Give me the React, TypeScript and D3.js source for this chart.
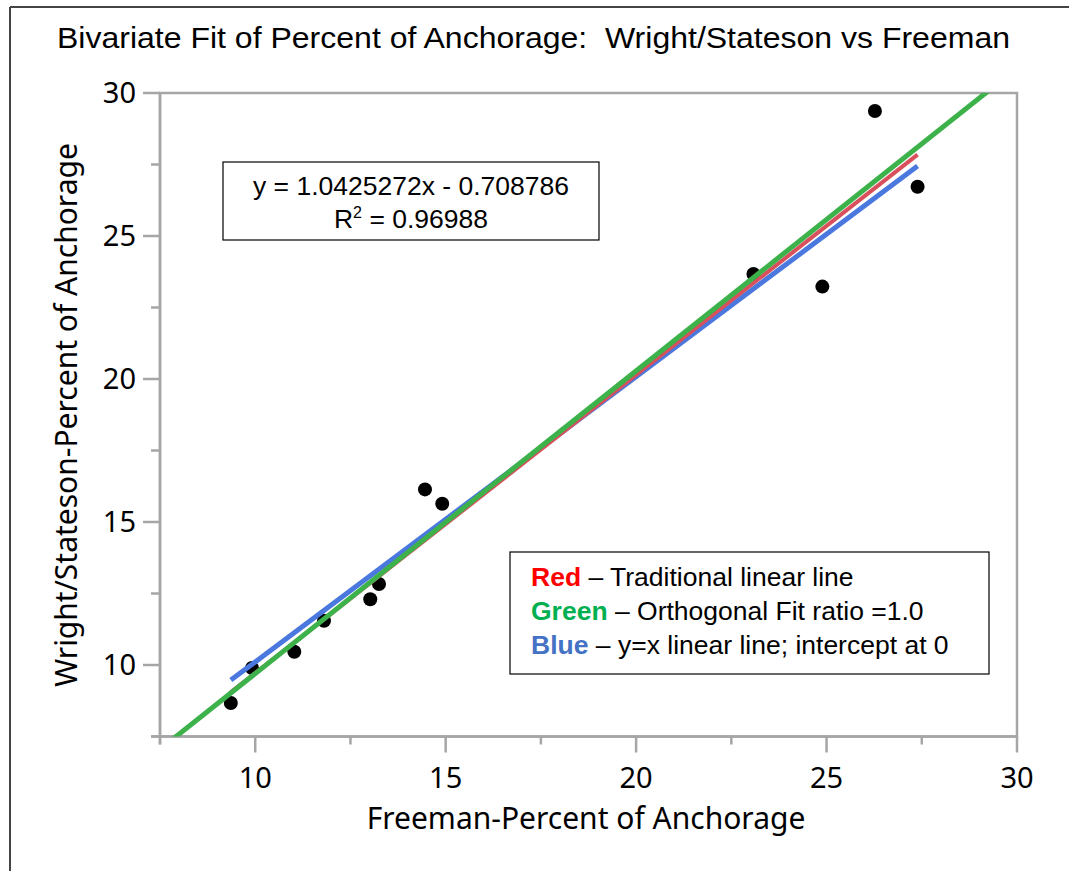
import React from "react";
import * as d3 from "d3";

const freeman = [9.36, 9.915, 11.026, 11.806, 13.02, 13.25, 14.457, 14.91, 23.08, 24.89, 26.27, 27.39];
const wright = [8.67, 9.895, 10.465, 11.549, 12.297, 12.83, 16.14, 15.64, 23.67, 23.23, 29.37, 26.72];

const majorTicks = [10, 15, 20, 25, 30];
const minorTicks = [7.5, 12.5, 17.5, 22.5, 27.5];

// fitted lines: [slope, intercept]
const redFit = [1.0425272, -0.708786];
const greenFit = [1.0585, -0.886];
const blueFit = [0.997, 0.14];

const titleText = "Bivariate Fit of Percent of Anchorage:\u00a0\u00a0Wright/Stateson vs Freeman";
const xTitle = "Freeman-Percent of Anchorage";
const yTitle = "Wright/Stateson-Percent of Anchorage";

const legendItems = [
  { word: "Red", color: "#ff0000", rest: " \u2013 Traditional linear line" },
  { word: "Green", color: "#00b050", rest: " \u2013 Orthogonal Fit ratio =1.0" },
  { word: "Blue", color: "#4472c4", rest: " \u2013 y=x linear line; intercept at 0" },
];

const W = 1069;
const H = 871;
const L = 160, R = 1017, T = 93, B = 736.5;

export default function App() {
  const x = d3.scaleLinear().domain([7.5, 30]).range([L, R]);
  const y = d3.scaleLinear().domain([7.5, 30]).range([B, T]);
  const xmin = d3.min(freeman)!;
  const xmax = d3.max(freeman)!;
  const seg = (fit: number[], x0: number, x1: number) =>
    d3.line<number>().x((d) => x(d)).y((d) => y(fit[0] * d + fit[1]))([x0, x1]) || "";
  const axisColor = "#a6a6a6";
  const tickFont = "'Noto Sans', 'Open Sans', sans-serif";
  const arial = "'Liberation Sans', Arial, sans-serif";
  return (
    <svg width={W} height={H} style={{ position: "absolute", left: 0, top: 0, background: "#fff" }}>
      <rect x={0} y={0} width={W} height={H} fill="#fff" />
      <line x1={10} y1={7} x2={W} y2={7} stroke="#444" strokeWidth={2} />
      <line x1={10} y1={7} x2={10} y2={H} stroke="#444" strokeWidth={2} />
      <text x={57} y={48} textLength={953} lengthAdjust="spacingAndGlyphs" fontFamily={arial} fontSize={29} fill="#000">
        {titleText}
      </text>
      <defs>
        <clipPath id="plotclip">
          <rect x={L} y={T} width={R - L} height={B - T} />
        </clipPath>
      </defs>
      {/* frame */}
      <rect x={L} y={T} width={R - L} height={B - T} fill="none" stroke={axisColor} strokeWidth={2.5} />
      <line x1={151} y1={B} x2={R} y2={B} stroke={axisColor} strokeWidth={2.5} />
      <line x1={L} y1={T} x2={L} y2={B + 8} stroke={axisColor} strokeWidth={2.5} />
      {/* x ticks */}
      {majorTicks.map((t) => (
        <g key={"xm" + t}>
          <line x1={x(t)} x2={x(t)} y1={B} y2={B + 16} stroke={axisColor} strokeWidth={2.5} />
          <text x={x(t)} y={B + 51} textAnchor="middle" fontFamily={tickFont} fontSize={29} fill="#000">{t}</text>
        </g>
      ))}
      {minorTicks.map((t) => (
        <line key={"xn" + t} x1={x(t)} x2={x(t)} y1={B} y2={B + 8} stroke={axisColor} strokeWidth={2.5} />
      ))}
      {/* y ticks */}
      {majorTicks.map((t) => (
        <g key={"ym" + t}>
          <line x1={L - 17} x2={L} y1={y(t)} y2={y(t)} stroke={axisColor} strokeWidth={2.5} />
          <text x={L - 24} y={y(t) + 10} textAnchor="end" fontFamily={tickFont} fontSize={29} fill="#000">{t}</text>
        </g>
      ))}
      {minorTicks.map((t) => (
        <line key={"yn" + t} x1={L - 9} x2={L} y1={y(t)} y2={y(t)} stroke={axisColor} strokeWidth={2.5} />
      ))}
      <text x={586} y={829} textAnchor="middle" fontFamily={tickFont} fontSize={30} fill="#000">{xTitle}</text>
      <text transform={`translate(77,415) rotate(-90)`} textAnchor="middle" fontFamily={tickFont} fontSize={30} fill="#000">{yTitle}</text>
      {/* points */}
      {freeman.map((fx, i) => (
        <circle key={"p" + i} cx={x(fx)} cy={y(wright[i])} r={7} fill="#000" />
      ))}
      {/* lines */}
      <g clipPath="url(#plotclip)">
        <path d={seg(blueFit, xmin, xmax)} stroke="#4a78de" strokeWidth={5} fill="none" />
        <path d={seg(redFit, xmin, xmax)} stroke="#d94f5c" strokeWidth={4} fill="none" />
        <path d={seg(greenFit, 7.5, 30)} stroke="#3db14a" strokeWidth={5} fill="none" />
      </g>
      {/* equation box */}
      <rect x={223} y={162} width={376} height={78} fill="#fff" stroke="#000" strokeWidth={1.2} />
      <text x={411} y={195} textAnchor="middle" fontFamily={arial} fontSize={26.5} fill="#000">
        y = 1.0425272x - 0.708786
      </text>
      <text x={411} y={228} textAnchor="middle" fontFamily={arial} fontSize={26.5} fill="#000">
        R<tspan dy={-10} fontSize={16}>2</tspan><tspan dy={10}> = 0.96988</tspan>
      </text>
      {/* legend box */}
      <rect x={510} y={552} width={479} height={122} fill="#fff" stroke="#000" strokeWidth={1.2} />
      {legendItems.map((it, i) => (
        <text key={it.word} x={531} y={586 + i * 34} fontFamily={arial} fontSize={26.5} fill="#000">
          <tspan fill={it.color} fontWeight="bold">{it.word}</tspan>
          <tspan>{it.rest}</tspan>
        </text>
      ))}
    </svg>
  );
}
